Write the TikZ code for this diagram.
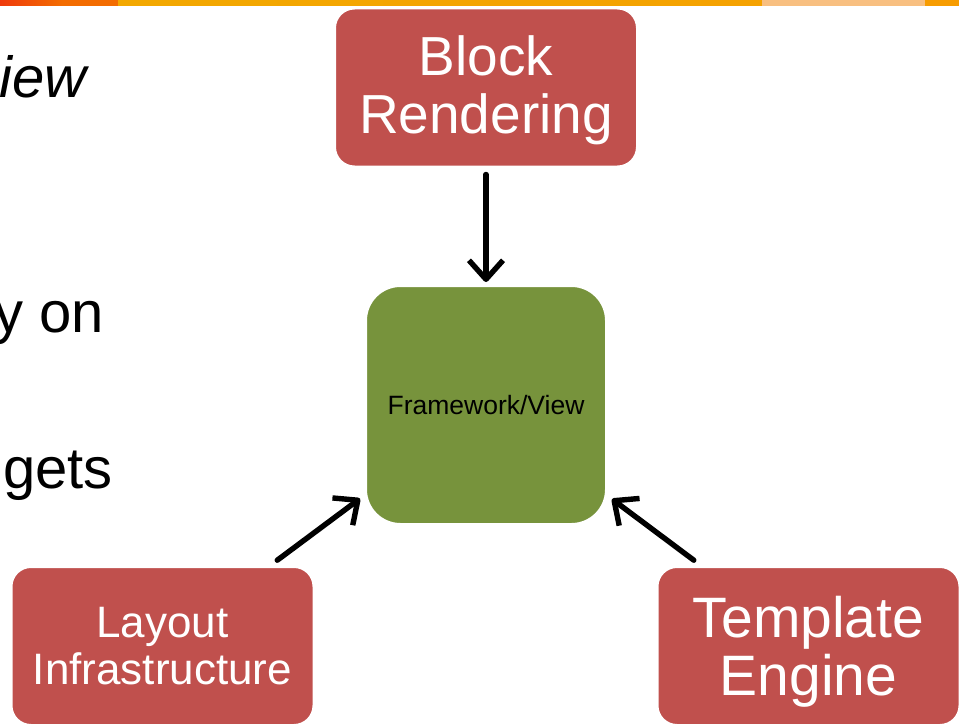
\documentclass[tikz,border=0pt]{standalone}
\usepackage{fontspec}
\setmainfont{Liberation Sans}
\usetikzlibrary{arrows.meta}

\definecolor{boxrot}{HTML}{C0504D}
\definecolor{boxgruen}{HTML}{77933C}
\definecolor{streifenrot}{HTML}{EF3A0C}
\definecolor{streifenorange}{HTML}{F36C00}
\definecolor{streifengelb}{HTML}{F3A800}
\definecolor{streifenhell}{HTML}{F8BF80}

\begin{document}
\begin{tikzpicture}[x=1pt, y=-1pt, % 1 Einheit = 1 Pixel
  kasten/.style={rectangle, rounded corners=20pt, fill=boxrot, draw=white, line width=3pt,
    text=white, align=center, inner sep=0pt, minimum width=303pt, minimum height=159pt},
  pfeil/.style={line width=5.4pt, line cap=round,
    -{Straight Barb[length=19pt, width=34pt, line join=round]}}]

\useasboundingbox (0,0) rectangle (959,725);
\clip (0,0) rectangle (959,725);

% Farbstreifen am oberen Rand
\shade[left color=streifenrot, right color=streifenorange] (0,0) rectangle (62,6);
\fill[streifenorange] (62,0) rectangle (118,6);
\shade[left color=streifengelb, right color=streifengelb!85!orange] (118,0) rectangle (762,6);
\fill[streifenhell] (762,0) rectangle (925,6);
\fill[streifengelb!70!orange] (925,0) rectangle (959,6);

% Textreste links
\node[anchor=base east, inner sep=0pt, font=\fontsize{58}{62}\selectfont\itshape] (ansicht) at (87,98) {iew};
\node[anchor=base east, inner sep=0pt, font=\fontsize{58}{62}\selectfont] (abhaengig) at (104,332) {y on};
\node[anchor=base east, inner sep=0pt, font=\fontsize{58}{62}\selectfont] (widgets) at (113,488) {gets};

% Kästen (Strut in der ersten Zeile schiebt den Text etwas nach unten)
\node[kasten, font=\fontsize{55}{58}\selectfont] (block) at (486,87.5) {\rule{0pt}{45pt}Block\\Rendering};
\node[kasten, font=\fontsize{44}{47}\selectfont] (layout) at (162.5,646) {Layout\\Infrastructure};
\node[kasten, font=\fontsize{57}{58}\selectfont] (template) at (808.5,646) {\rule{0pt}{52pt}Template\\Engine};
\node[rectangle, rounded corners=35pt, fill=boxgruen, draw=white, line width=3pt, inner sep=0pt,
  minimum width=241pt, minimum height=239pt, font=\fontsize{26.5}{28}\selectfont] (fw) at (486,405) {Framework/View};

% Pfeile zur Mitte
\draw[pfeil, shorten <=6pt, shorten >=2pt] (block) -- (fw);
\draw[pfeil, shorten <=8pt, shorten >=5pt] (layout) -- (fw);
\draw[pfeil, shorten <=8pt, shorten >=5pt] (template) -- (fw);
\end{tikzpicture}
\end{document}
